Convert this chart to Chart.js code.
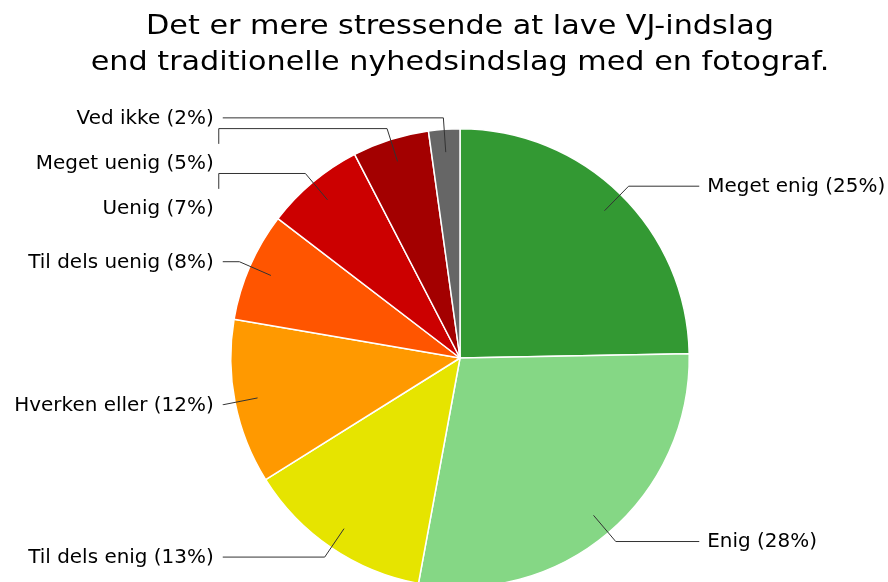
<!DOCTYPE html>
<html>
<head>
<meta charset="utf-8">
<script src="https://cdn.jsdelivr.net/npm/chart.js@4/dist/chart.umd.min.js"></script>
<style>
  html, body { margin: 0; padding: 0; background: #fff; overflow: hidden; }
  #wrap { width: 888px; height: 600px; position: relative; }
</style>
</head>
<body>
<div id="wrap"><canvas id="c" width="888" height="600"></canvas></div>
<script>
const titleLines = ["Det er mere stressende at lave VJ-indslag", "end traditionelle nyhedsindslag med en fotograf."];
const categories = ["Meget enig", "Enig", "Til dels enig", "Hverken eller", "Til dels uenig", "Uenig", "Meget uenig", "Ved ikke"];
const values = [24.7, 28.2, 13.2, 11.6, 7.7, 7.0, 5.4, 2.2];
const percentLabels = ["25%", "28%", "13%", "12%", "8%", "7%", "5%", "2%"];
const colors = ["#339933", "#85d785", "#e6e400", "#ff9900", "#ff5500", "#cc0000", "#a30000", "#666666"];

const FONT = "DejaVu Sans, Verdana, sans-serif";

function wideText(ctx, text, x, y, sx) {
  ctx.save();
  ctx.translate(x, y);
  ctx.scale(sx, 1);
  ctx.fillText(text, 0, 0);
  ctx.restore();
}

const calloutPlugin = {
  id: 'callouts',
  afterDraw(chart) {
    const ctx = chart.ctx;
    const ca = chart.chartArea;
    // title
    ctx.save();
    ctx.fillStyle = '#000';
    ctx.font = '27px ' + FONT;
    ctx.textAlign = 'center';
    ctx.textBaseline = 'middle';
    const tx = (ca.left + ca.right) / 2;
    titleLines.forEach((t, i) => wideText(ctx, t, tx, 27 + i * 36, 1.12));
    ctx.restore();

    const meta = chart.getDatasetMeta(0);
    const items = meta.data.map((arc, i) => {
      const p = arc.getProps(['x', 'y', 'startAngle', 'endAngle', 'outerRadius'], true);
      const mid = (p.startAngle + p.endAngle) / 2;
      const R = p.outerRadius;
      const ax = p.x + Math.cos(mid) * R * 0.9;
      const ay = p.y + Math.sin(mid) * R * 0.9;
      const ex = p.x + Math.cos(mid) * R * 1.05;
      const ey = p.y + Math.sin(mid) * R * 1.05;
      return { i, cx: p.x, R, ax, ay, ex, ey, right: Math.cos(mid) >= 0, ly: ey };
    });
    const gap = 45;
    ['left', 'right'].forEach(side => {
      const list = items.filter(it => (side === 'right') === it.right).sort((a, b) => a.ey - b.ey);
      let prev = -Infinity;
      list.forEach(it => {
        it.ly = Math.max(it.ey, prev + gap);
        prev = it.ly;
      });
    });

    ctx.save();
    ctx.font = '19px ' + FONT;
    ctx.textBaseline = 'middle';
    ctx.strokeStyle = '#333';
    ctx.lineWidth = 1;
    items.forEach(it => {
      const text = categories[it.i] + ' (' + percentLabels[it.i] + ')';
      const rightX = it.cx + it.R + 10;
      const leftX = it.cx - it.R - 8;
      ctx.beginPath();
      ctx.moveTo(it.ax, it.ay);
      ctx.lineTo(it.ex, it.ey);
      if (it.right) {
        ctx.lineTo(rightX, it.ey);
        ctx.stroke();
        ctx.fillStyle = '#000';
        ctx.textAlign = 'left';
        wideText(ctx, text, rightX + 8, it.ly + 1, 1.05);
      } else {
        if (Math.abs(it.ly - it.ey) < 1) {
          ctx.lineTo(leftX, it.ey);
        } else {
          ctx.lineTo(leftX - 4, it.ey);
          ctx.lineTo(leftX - 4, it.ly - 19);
        }
        ctx.stroke();
        ctx.fillStyle = '#000';
        ctx.textAlign = 'right';
        wideText(ctx, text, leftX - 9, it.ly + 1, 1.05);
      }
    });
    ctx.restore();
  }
};

new Chart(document.getElementById('c'), {
  type: 'pie',
  data: {
    labels: categories,
    datasets: [{
      data: values,
      backgroundColor: colors,
      borderColor: '#ffffff',
      borderWidth: 1.5
    }]
  },
  options: {
    responsive: false,
    animation: false,
    layout: { padding: { top: 128, bottom: 12, left: 230, right: 198 } },
    plugins: {
      legend: { display: false },
      title: { display: false },
      tooltip: { enabled: false }
    }
  },
  plugins: [calloutPlugin]
});
</script>
</body>
</html>
